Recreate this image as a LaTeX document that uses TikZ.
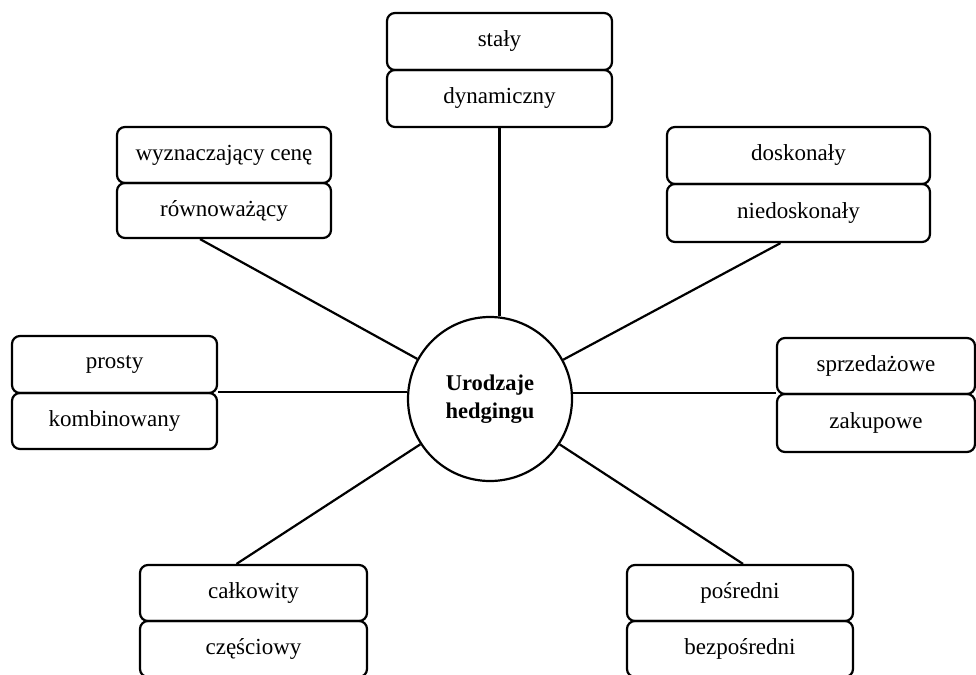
\documentclass[tikz,border=0pt]{standalone}
\usepackage{fontspec}
\setmainfont{Liberation Serif}
\begin{document}
\begin{tikzpicture}[x=1pt,y=-1pt,
  lbox/.style={draw, line width=2.2pt, rounded corners=8pt, inner sep=0pt,
    font=\fontsize{23}{26}\selectfont},
  hub/.style={draw, circle, line width=2.2pt, minimum size=164pt, inner sep=0pt,
    align=center, font=\fontsize{22.5}{28}\selectfont\bfseries},
  link/.style={line width=2.2pt}]
\clip (0,0) rectangle (976,674);
\useasboundingbox (0,0) rectangle (976,674);
\node[hub] (c) at (490,399) {Urodzaje\\hedgingu};
% top
\node[lbox, minimum width=225pt, minimum height=57pt] (t1) at (499.5,41.5) {stały};
\node[lbox, minimum width=225pt, minimum height=57pt] (t2) at (499.5,98.5) {dynamiczny};
% top-left
\node[lbox, minimum width=214pt, minimum height=56pt] (tl1) at (224,155) {wyznaczający cenę};
\node[lbox, minimum width=214pt, minimum height=55pt] (tl2) at (224,210.5) {równoważący};
% top-right
\node[lbox, minimum width=263pt, minimum height=57pt] (tr1) at (798.5,155.5) {doskonały};
\node[lbox, minimum width=263pt, minimum height=58pt] (tr2) at (798.5,213) {niedoskonały};
% left
\node[lbox, minimum width=205pt, minimum height=57pt] (l1) at (114.5,364.5) {prosty};
\node[lbox, minimum width=205pt, minimum height=56pt] (l2) at (114.5,421) {kombinowany};
% right
\node[lbox, minimum width=198pt, minimum height=56pt] (r1) at (876,366) {sprzedażowe};
\node[lbox, minimum width=198pt, minimum height=58pt] (r2) at (876,423) {zakupowe};
% bottom-left
\node[lbox, minimum width=227pt, minimum height=56pt] (bl1) at (253.5,593) {całkowity};
\node[lbox, minimum width=227pt, minimum height=56pt] (bl2) at (253.5,649) {częściowy};
% bottom-right
\node[lbox, minimum width=226pt, minimum height=56pt] (br1) at (740,593) {pośredni};
\node[lbox, minimum width=226pt, minimum height=56pt] (br2) at (740,649) {bezpośredni};
% connectors
\draw[link] (t2.south) -- (t2.south |- c.north);
\draw[link] ([xshift=-24pt]tl2.south) -- (c);
\draw[link] ([xshift=-18pt]tr2.south) -- (c);
\draw[link] (l2.north east) -- (l2.north east -| c.west);
\draw[link] (r2.north west) -- (r2.north west -| c.east);
\draw[link] ([xshift=-17pt]bl1.north) -- (c);
\draw[link] ([xshift=3pt]br1.north) -- (c);
\end{tikzpicture}
\end{document}
